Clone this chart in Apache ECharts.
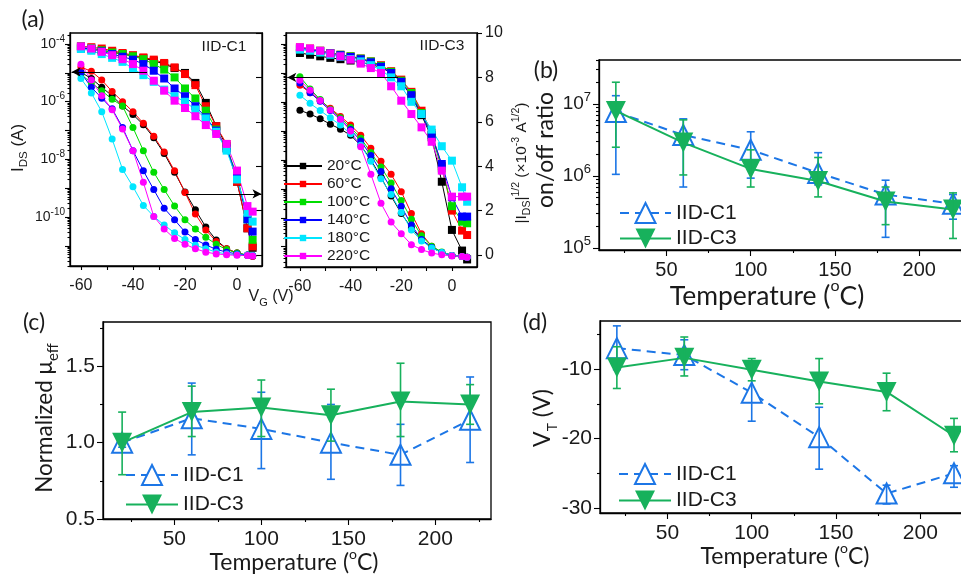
<!DOCTYPE html>
<html>
<head>
<meta charset="utf-8">
<title>IID-C1 / IID-C3 temperature dependence</title>
<script src="https://cdn.jsdelivr.net/npm/echarts@6.0.0/dist/echarts.min.js"></script>
<style>
html,body{margin:0;padding:0;background:#ffffff;}
#chart{width:961px;height:575px;}
</style>
</head>
<body>
<div id="chart"></div>
<script>
// ================= DATA =================
// Panel (a): gate voltage (V)
const VG = [-60,-56,-52,-48,-44,-40,-36,-32,-28,-24,-20,-16,-12,-8,-4,0,4,6];
const TEMPS = ['20°C','60°C','100°C','140°C','180°C','220°C'];

// IID-C1, log10(I_DS / A)
const c1_log_20  = [-4.98,-5.2,-5.5,-5.8,-6.15,-6.45,-6.8,-7.25,-7.8,-8.45,-9.13,-9.75,-10.35,-10.8,-11.1,-11.25,-11.33,-11.36];
const c1_log_60  = [-4.8,-4.95,-5.25,-5.65,-6.0,-6.35,-6.75,-7.2,-7.75,-8.4,-9.15,-9.9,-10.45,-10.85,-11.1,-11.25,-11.33,-11.36];
const c1_log_100 = [-5.05,-5.35,-5.62,-5.92,-6.15,-6.9,-7.7,-8.45,-9.05,-9.62,-10.1,-10.42,-10.7,-10.95,-11.13,-11.25,-11.32,-11.34];
const c1_log_140 = [-5.0,-5.5,-5.88,-6.25,-6.9,-7.7,-8.4,-9.05,-9.7,-10.1,-10.52,-10.78,-10.97,-11.12,-11.22,-11.28,-11.32,-11.34];
const c1_log_180 = [-5.2,-5.7,-6.35,-7.3,-8.35,-8.95,-9.6,-9.98,-10.28,-10.55,-10.78,-10.98,-11.1,-11.22,-11.28,-11.31,-11.33,-11.34];
const c1_log_220 = [-4.7,-5.25,-5.8,-6.28,-6.95,-7.7,-8.8,-9.98,-10.42,-10.75,-10.95,-11.1,-11.22,-11.28,-11.31,-11.33,-11.34,-11.35];
// IID-C1, |I_DS|^1/2 (x10^-3 A^1/2)
const c1_sqrt_20  = [9.3,9.27,9.22,9.15,9.05,8.97,8.87,8.75,8.6,8.42,8.2,7.75,6.85,5.8,4.9,3.3,1.2,0.32];
const c1_sqrt_60  = [9.4,9.36,9.3,9.2,9.1,9.0,8.9,8.8,8.65,8.45,8.15,7.65,6.7,5.8,5.0,3.3,1.2,0.38];
const c1_sqrt_100 = [9.4,9.32,9.22,9.12,9.05,8.95,8.82,8.6,8.35,8.0,7.5,7.05,6.5,5.65,4.8,3.6,1.6,0.68];
const c1_sqrt_140 = [9.35,9.27,9.17,9.05,8.93,8.8,8.6,8.3,7.95,7.5,7.15,6.7,6.2,5.6,4.8,3.5,1.6,1.05];
const c1_sqrt_180 = [9.28,9.2,9.05,8.88,8.7,8.4,8.1,7.8,7.45,7.15,6.9,6.55,6.15,5.55,4.7,3.4,1.9,1.5];
const c1_sqrt_220 = [9.4,9.3,9.15,9.0,8.82,8.6,8.3,7.85,7.4,6.95,6.62,6.25,5.85,5.45,5.0,3.8,2.2,1.95];

// IID-C3, log10(I_DS / A)
const c3_log_20  = [-6.29,-6.42,-6.58,-6.77,-6.94,-7.15,-7.5,-8.0,-8.6,-9.25,-9.85,-10.35,-10.75,-11.02,-11.2,-11.3,-11.34,-11.36];
const c3_log_60  = [-5.42,-5.68,-5.95,-6.22,-6.5,-6.8,-7.15,-7.6,-8.05,-8.5,-9.1,-9.85,-10.55,-10.98,-11.2,-11.3,-11.34,-11.36];
const c3_log_100 = [-5.13,-5.55,-5.92,-6.25,-6.55,-6.88,-7.25,-7.75,-8.25,-8.8,-9.4,-10.05,-10.62,-10.98,-11.18,-11.3,-11.34,-11.36];
const c3_log_140 = [-5.35,-5.68,-5.98,-6.3,-6.6,-6.95,-7.35,-7.85,-8.4,-9.0,-9.6,-10.25,-10.75,-11.03,-11.2,-11.3,-11.34,-11.36];
const c3_log_180 = [-5.77,-6.05,-6.3,-6.55,-6.8,-7.1,-7.5,-8.05,-8.65,-9.2,-9.82,-10.42,-10.8,-11.04,-11.2,-11.3,-11.34,-11.36];
const c3_log_220 = [-5.25,-5.6,-5.95,-6.28,-6.6,-7.0,-7.55,-8.5,-9.5,-10.15,-10.55,-10.93,-11.1,-11.22,-11.28,-11.32,-11.34,-11.36];
// IID-C3, |I_DS|^1/2 (x10^-3 A^1/2)
const c3_sqrt_20  = [9.1,9.02,8.95,8.88,8.82,8.76,8.68,8.58,8.45,8.2,7.8,7.15,6.3,5.3,3.3,1.13,0.2,-0.2];
const c3_sqrt_60  = [9.35,9.3,9.2,9.1,9.02,8.95,8.85,8.72,8.55,8.28,7.9,7.35,6.5,5.5,4.0,2.0,1.1,0.9];
const c3_sqrt_100 = [9.33,9.28,9.2,9.1,9.02,8.95,8.85,8.72,8.52,8.25,7.85,7.3,6.4,5.4,3.9,2.2,1.5,1.43];
const c3_sqrt_140 = [9.3,9.25,9.18,9.08,9.0,8.92,8.82,8.68,8.48,8.2,7.8,7.2,6.35,5.4,4.1,2.6,1.73,1.73];
const c3_sqrt_180 = [9.25,9.2,9.12,9.02,8.93,8.83,8.72,8.55,8.33,8.0,7.6,6.9,6.35,5.65,4.9,4.25,3.05,2.4];
const c3_sqrt_220 = [9.36,9.3,9.2,9.08,8.95,8.8,8.62,8.42,8.2,7.6,6.95,6.35,5.75,5.1,3.8,2.63,2.63,2.63];

// Panels (b)-(d): annealing temperature (°C)
const TEMP_C = [20,60,100,140,180,220];
// (b) on/off ratio
const onoff_c1    = [7.7e6,3.7e6,2.3e6,1.1e6,5.5e5,4.1e5];
const onoff_c1_lo = [1.05e6,7.0e5,9.3e5,7.5e5,1.4e5,2.5e5];
const onoff_c1_hi = [1.3e7,6.2e6,4.1e6,2.1e6,8.7e5,5.5e5];
const onoff_c3    = [8.0e6,2.9e6,1.25e6,8.5e5,4.4e5,3.4e5];
const onoff_c3_lo = [2.5e6,1.03e6,7.0e5,5.1e5,2.1e5,1.35e5];
const onoff_c3_hi = [2.0e7,6.0e6,2.3e6,1.8e6,7.0e5,5.8e5];
// (c) normalized mobility
const mu_c1    = [1.0,1.16,1.09,1.0,0.92,1.15];
const mu_c1_lo = [0.97,0.92,0.83,0.76,0.72,0.87];
const mu_c1_hi = [1.03,1.39,1.33,1.25,1.12,1.43];
const mu_c3    = [1.0,1.2,1.23,1.18,1.27,1.25];
const mu_c3_lo = [0.79,1.04,1.04,1.01,1.04,1.12];
const mu_c3_hi = [1.20,1.37,1.41,1.35,1.52,1.38];
// (d) threshold voltage (V)
const vt_c1    = [-7.0,-8.0,-13.4,-19.8,-27.9,-25.0];
const vt_c1_lo = [-10.1,-10.1,-17.5,-24.4,-29.4,-27.0];
const vt_c1_hi = [-3.8,-5.8,-9.7,-15.5,-26.7,-23.9];
const vt_c3    = [-9.8,-8.4,-10.1,-11.8,-13.3,-19.6];
const vt_c3_lo = [-12.8,-11.0,-11.7,-15.0,-16.0,-21.9];
const vt_c3_hi = [-6.8,-5.4,-8.5,-8.5,-10.6,-17.1];

// tick labels
const A_X_LABELS = [-60,-40,-20,0];
const A_LOG_LABELS = [-10,-8,-6,-4];
const A_SQRT_LABELS = [0,2,4,6,8,10];
const T_LABELS = [50,100,150,200];
const T_MINOR = [25,75,125,175,225];
const B_LOG_LABELS = [5,6,7];
const C_LABELS = [0.5,1.0,1.5];
const C_MINOR = [0.75,1.25,1.75];
const D_LABELS = [-30,-20,-10];
const D_MINOR = [-25,-15,-5];

// ================= STYLE =================
const FA = '"Liberation Sans", Arial, sans-serif';
const FT = 'Lato, "Open Sans", sans-serif';
const TXT = '#1a1a1a';
const TEMP_COLORS = ['#000000','#ff0000','#00dd00','#0000ff','#00e6ff','#ff00ff'];
const BLUE = '#1c76e6';
const GREEN = '#17b15c';

const c1Log = [c1_log_20,c1_log_60,c1_log_100,c1_log_140,c1_log_180,c1_log_220];
const c1Sqrt = [c1_sqrt_20,c1_sqrt_60,c1_sqrt_100,c1_sqrt_140,c1_sqrt_180,c1_sqrt_220];
const c3Log = [c3_log_20,c3_log_60,c3_log_100,c3_log_140,c3_log_180,c3_log_220];
const c3Sqrt = [c3_sqrt_20,c3_sqrt_60,c3_sqrt_100,c3_sqrt_140,c3_sqrt_180,c3_sqrt_220];

function decades(lo, hi){ const r=[]; for(let n=Math.ceil(lo); n<=Math.floor(hi); n++) r.push(n); return r; }
function subDecades(lo, hi){ const r=[]; for(let n=Math.floor(lo); n<=Math.floor(hi); n++) for(let k=2;k<=9;k++){ const v=n+Math.log10(k); if(v>lo && v<hi) r.push(v);} return r; }

function ax(o){
  return {
    type:'value', gridIndex:o.g, position:o.pos, min:o.min, max:o.max,
    splitLine:{show:false},
    axisLine: o.line===false ? {show:false, onZero:false} : {show:true, onZero:false, lineStyle:{color:'#000', width:1.3}},
    axisTick: o.ticks ? {show:true, inside:!!o.inside, length:o.tl, customValues:o.ticks, lineStyle:{color:'#000', width:1.1}} : {show:false},
    axisLabel: o.labels ? {show:true, customValues:o.labels, margin:o.margin, fontSize:o.fs, fontFamily:FA, color:TXT,
                           formatter:o.fmt, rich:o.rich} : {show:false},
    axisPointer:{show:false}
  };
}
const powFmt = v => '{b|10}{s|' + Math.round(v) + '}';
const richA = { b:{fontSize:14, fontFamily:FA, color:TXT, lineHeight:20}, s:{fontSize:10, fontFamily:FA, color:TXT, lineHeight:10, verticalAlign:'top'} };
const richB = { b:{fontSize:19, fontFamily:FA, color:TXT, lineHeight:26}, s:{fontSize:13, fontFamily:FA, color:TXT, lineHeight:13, verticalAlign:'top'} };

const A_LOG_MIN = -11.7, A_LOG_MAX = -3.62;
const B_LOG_MIN = 4.97, B_LOG_MAX = 7.61;

const xAxis = [
  ax({g:0,pos:'bottom',min:-64.2,max:9.6,ticks:[-60,-50,-40,-30,-20,-10,0],tl:4,labels:A_X_LABELS,margin:12,fs:16}),
  ax({g:1,pos:'bottom',min:-65.5,max:9.9,ticks:[-60,-50,-40,-30,-20,-10,0],tl:4,labels:A_X_LABELS,margin:12,fs:16}),
  ax({g:2,pos:'bottom',min:10,max:236.6,ticks:T_LABELS,tl:6,labels:T_LABELS,margin:10,fs:20}),
  ax({g:2,pos:'bottom',min:10,max:236.6,ticks:T_MINOR,tl:3,line:false}),
  ax({g:3,pos:'bottom',min:9,max:232,ticks:T_LABELS,tl:6,labels:T_LABELS,margin:10,fs:21}),
  ax({g:3,pos:'bottom',min:9,max:232,ticks:T_MINOR,tl:3,line:false}),
  ax({g:4,pos:'bottom',min:10,max:236.6,ticks:T_LABELS,tl:6,labels:T_LABELS,margin:10,fs:21}),
  ax({g:4,pos:'bottom',min:10,max:236.6,ticks:T_MINOR,tl:3,line:false})
];
const yAxis = [
  // 0-2: panel (a) IID-C1
  ax({g:0,pos:'left',min:A_LOG_MIN,max:A_LOG_MAX,ticks:decades(A_LOG_MIN,A_LOG_MAX),tl:5,labels:A_LOG_LABELS,margin:5,fs:14,fmt:powFmt,rich:richA}),
  ax({g:0,pos:'left',min:A_LOG_MIN,max:A_LOG_MAX,ticks:subDecades(A_LOG_MIN,A_LOG_MAX),tl:2.5,line:false}),
  ax({g:0,pos:'right',min:-0.5,max:10,ticks:A_SQRT_LABELS,tl:6,inside:true}),
  // 3-5: panel (a) IID-C3
  ax({g:1,pos:'left',min:A_LOG_MIN,max:A_LOG_MAX,ticks:decades(A_LOG_MIN,A_LOG_MAX),tl:5}),
  ax({g:1,pos:'left',min:A_LOG_MIN,max:A_LOG_MAX,ticks:subDecades(A_LOG_MIN,A_LOG_MAX),tl:2.5,line:false}),
  ax({g:1,pos:'right',min:-0.54,max:10,ticks:A_SQRT_LABELS,tl:5,labels:A_SQRT_LABELS,margin:8,fs:16}),
  // 6-7: panel (b)
  ax({g:2,pos:'left',min:B_LOG_MIN,max:B_LOG_MAX,ticks:B_LOG_LABELS,tl:6,labels:B_LOG_LABELS,margin:8,fs:19,fmt:powFmt,rich:richB}),
  ax({g:2,pos:'left',min:B_LOG_MIN,max:B_LOG_MAX,ticks:subDecades(B_LOG_MIN,B_LOG_MAX),tl:3,line:false}),
  // 8-9: panel (c)
  ax({g:3,pos:'left',min:0.5,max:1.79,ticks:C_LABELS,tl:6,labels:C_LABELS,margin:8,fs:21,fmt:v=>v.toFixed(1)}),
  ax({g:3,pos:'left',min:0.5,max:1.79,ticks:C_MINOR,tl:3,line:false}),
  // 10-11: panel (d)
  ax({g:4,pos:'left',min:-30.7,max:-3.1,ticks:D_LABELS,tl:6,labels:D_LABELS,margin:8,fs:21}),
  ax({g:4,pos:'left',min:-30.7,max:-3.1,ticks:D_MINOR,tl:3,line:false})
];

function gridBox(l,t,w,h){ return {left:l, top:t, width:w, height:h, show:true, borderColor:'#000', borderWidth:1.3, backgroundColor:'transparent', containLabel:false, outerBoundsMode:'none'}; }
const grid = [
  gridBox(70,33,192,233),
  gridBox(286,33,191,234),
  gridBox(599,60,382,190),
  gridBox(103,322,388,197),
  gridBox(600,321,382,192)
];

// ================= SERIES =================
const series = [];
function curve(name, xi, yi, ys, color, symbol, size){
  return {type:'line', name, xAxisIndex:xi, yAxisIndex:yi,
    data: VG.map((v,i)=>[v, ys[i]]),
    symbol, symbolSize:size, showSymbol:true, lineStyle:{color, width:1}, itemStyle:{color},
    emphasis:{disabled:true}, silent:true, z:3, animation:false};
}
function arrow(from, to){
  return {silent:true, symbol:['none','arrow'], symbolSize:[7,9], label:{show:false},
    lineStyle:{color:'#000', width:1.2, type:'solid'}, emphasis:{disabled:true}, animation:false,
    data:[[{coord:from},{coord:to}]]};
}
// IID-C3 sqrt first (legend icons use these)
for (let i=0;i<6;i++) series.push(curve(TEMPS[i],1,5,c3Sqrt[i],TEMP_COLORS[i],'rect',8));
for (let i=0;i<6;i++) series.push(curve(TEMPS[i],1,3,c3Log[i],TEMP_COLORS[i],'circle',7));
for (let i=0;i<6;i++) series.push(curve(TEMPS[i],0,2,c1Sqrt[i],TEMP_COLORS[i],'rect',8));
for (let i=0;i<6;i++) series.push(curve(TEMPS[i],0,0,c1Log[i],TEMP_COLORS[i],'circle',7));
// axis-indicating arrows
series[0].markLine  = arrow([-21.3, 8.0], [-65.0, 8.0]);      // C3 left arrow
series[6].markLine  = arrow([-22.5, 2.2], [9.7, 2.2]);        // C3 right arrow
series[12].markLine = arrow([-19.6, 2.75], [9.4, 2.75]);      // C1 right arrow
series[18].markLine = arrow([-34.6, -4.97], [-63.6, -4.97]);  // C1 left arrow

const ident = v => v;
function errBars(xi, yi, lo, hi, color, tf, z){
  return {type:'custom', xAxisIndex:xi, yAxisIndex:yi, silent:true, z, animation:false,
    data: TEMP_C.map((t,i)=>[t, tf(lo[i]), tf(hi[i])]),
    encode:{x:0, y:[1,2]},
    renderItem(params, api){
      const a = api.coord([api.value(0), api.value(1)]);
      const b = api.coord([api.value(0), api.value(2)]);
      const w = 4;
      const st = {stroke:color, lineWidth:1.6};
      return {type:'group', children:[
        {type:'line', shape:{x1:a[0],y1:a[1],x2:b[0],y2:b[1]}, style:st},
        {type:'line', shape:{x1:a[0]-w,y1:a[1],x2:a[0]+w,y2:a[1]}, style:st},
        {type:'line', shape:{x1:b[0]-w,y1:b[1],x2:b[0]+w,y2:b[1]}, style:st}
      ]};
    }};
}
function mean(name, xi, yi, ys, tf, isC1, z){
  return {type:'line', name, xAxisIndex:xi, yAxisIndex:yi, z, silent:true, animation:false,
    data: TEMP_C.map((t,i)=>[t, tf(ys[i])]),
    symbol:'triangle', symbolSize:20, symbolRotate: isC1 ? 0 : 180,
    lineStyle: isC1 ? {color:BLUE, width:2, type:[9,6]} : {color:GREEN, width:2},
    itemStyle: isC1 ? {color:'#ffffff', borderColor:BLUE, borderWidth:2} : {color:GREEN},
    emphasis:{disabled:true}};
}
const L10 = v => Math.log10(v);
// (b)
series.push(mean('IID-C1',2,6,onoff_c1,L10,true,4));
series.push(errBars(2,6,onoff_c1_lo,onoff_c1_hi,BLUE,L10,5));
series.push(mean('IID-C3',2,6,onoff_c3,L10,false,6));
series.push(errBars(2,6,onoff_c3_lo,onoff_c3_hi,GREEN,L10,7));
// (c)
series.push(mean('IID-C1',4,8,mu_c1,ident,true,4));
series.push(errBars(4,8,mu_c1_lo,mu_c1_hi,BLUE,ident,5));
series.push(mean('IID-C3',4,8,mu_c3,ident,false,6));
series.push(errBars(4,8,mu_c3_lo,mu_c3_hi,GREEN,ident,7));
// (d)
series.push(mean('IID-C1',6,10,vt_c1,ident,true,4));
series.push(errBars(6,10,vt_c1_lo,vt_c1_hi,BLUE,ident,5));
series.push(mean('IID-C3',6,10,vt_c3,ident,false,6));
series.push(errBars(6,10,vt_c3_lo,vt_c3_hi,GREEN,ident,7));

// ================= LEGENDS =================
function lg(o){
  return Object.assign({show:true, orient:'vertical', selectedMode:false, padding:0, backgroundColor:'transparent',
    textStyle:{fontFamily:FA, color:TXT, fontSize:o.fs, lineHeight:o.fs}}, o.rest);
}
const legend = [
  lg({fs:15.5, rest:{data:TEMPS, left:283, top:158, itemWidth:38, itemHeight:8, itemGap:2}}),
  lg({fs:21, rest:{data:['IID-C1','IID-C3'], left:619, top:202, itemWidth:51, itemHeight:25, itemGap:4}}),
  lg({fs:21, rest:{data:['IID-C1','IID-C3'], left:125, top:464, itemWidth:52, itemHeight:25, itemGap:8}}),
  lg({fs:21, rest:{data:['IID-C1','IID-C3'], left:618, top:463, itemWidth:52, itemHeight:25, itemGap:5}})
];

// ================= TEXT =================
function t(x, y, text, fs, fam, rot, rich){
  const st = {text, x:0, y:0, align:'center', verticalAlign:'middle', fill:TXT, fontSize:fs, fontFamily:fam};
  if (rich) st.rich = rich;
  return {type:'text', x, y, rotation: rot||0, silent:true, style:st};
}
function richSet(fs, small, lh, fam){
  return {
    n:{fontSize:fs, fontFamily:fam, fill:TXT, lineHeight:lh},
    up:{fontSize:small, fontFamily:fam, fill:TXT, lineHeight:small, verticalAlign:'top'},
    dn:{fontSize:small, fontFamily:fam, fill:TXT, lineHeight:small, verticalAlign:'bottom'}
  };
}
const R90 = Math.PI/2;
const graphic = [
  t(33, 20, '(a)', 23, FT),
  t(546, 71, '(b)', 23, FT),
  t(34, 323, '(c)', 23, FT),
  t(535, 323, '(d)', 23, FT),
  t(224, 47, 'IID-C1', 15.5, FA),
  t(442, 46, 'IID-C3', 15.5, FA),
  t(18, 148, '{n|I}{dn|DS}{n| (A)}', 17, FA, R90, richSet(17, 11.5, 24, FA)),
  t(271, 297, '{n|V}{dn|G}{n| (V)}', 16, FA, 0, richSet(16, 11, 22, FA)),
  t(522, 163, '{n||I}{dn|DS}{n||}{up|1/2}{n| (×10}{up|-3}{n| A}{up|1/2}{n|)}', 15.5, FA, R90, richSet(15.5, 10.5, 22, FA)),
  t(546, 150, 'on/off ratio', 23, FT, R90),
  t(767, 296, '{n|Temperature (}{up|o}{n|C)}', 26.5, FT, 0, richSet(26.5, 16, 36, FT)),
  t(45, 418, '{n|Normalized μ}{dn|eff}', 22.5, FT, R90, richSet(22.5, 15, 32, FT)),
  t(294, 563, '{n|Temperature (}{up|o}{n|C)}', 23, FT, 0, richSet(23, 14, 31, FT)),
  t(543, 418, '{n|V}{dn|T}{n| (V)}', 23, FT, R90, richSet(23, 14, 32, FT)),
  t(785, 557, '{n|Temperature (}{up|o}{n|C)}', 23, FT, 0, richSet(23, 14, 31, FT))
];

const chart = echarts.init(document.getElementById('chart'), null, {renderer:'canvas'});
chart.setOption({
  animation:false,
  backgroundColor:'#ffffff',
  grid, xAxis, yAxis, series, legend, graphic,
  tooltip:{show:false}
});
</script>
</body>
</html>
